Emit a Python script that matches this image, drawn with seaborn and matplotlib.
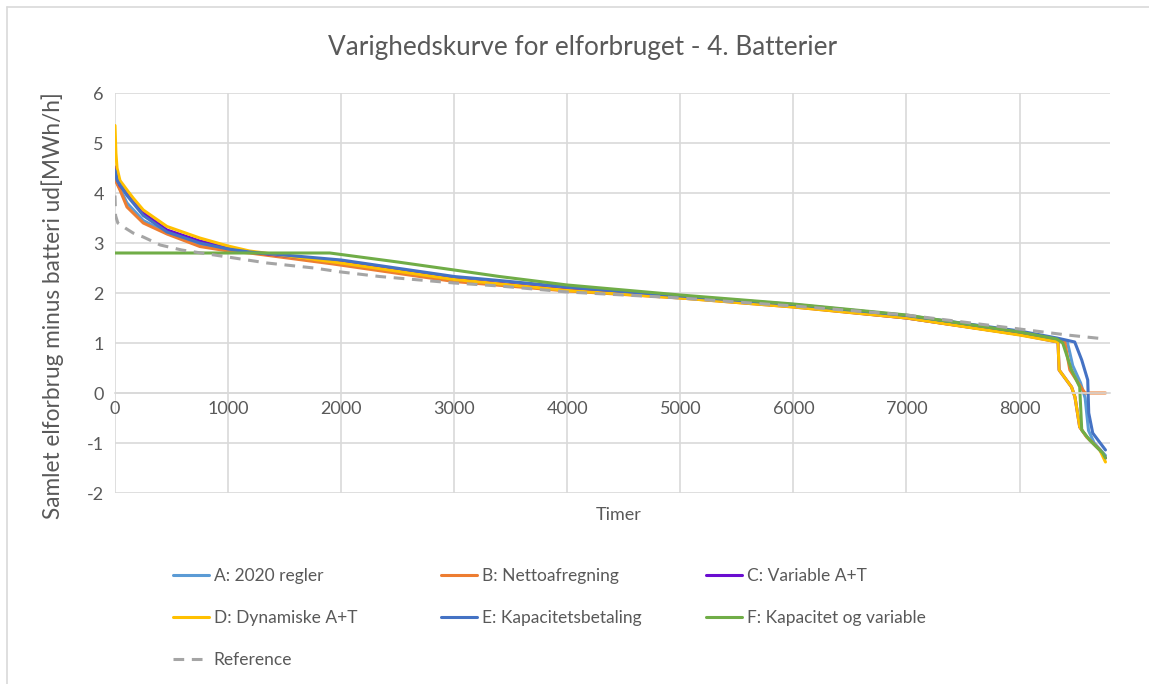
import numpy as np
import pandas as pd
import matplotlib
matplotlib.use('Agg')
import matplotlib.pyplot as plt
import seaborn as sns

# series (hours, MWh/h)
hours_A = [0, 18, 106, 250, 460, 750, 1000, 1190, 2000, 3000, 4000, 5000, 6000, 7000, 8000, 8300, 8420, 8440, 8470, 8540, 8580, 8610, 8660, 8760]
vals_A = [4.4, 4.2, 3.8, 3.45, 3.2, 2.95, 2.86, 2.82, 2.6, 2.27, 2.07, 1.93, 1.76, 1.52, 1.2, 1.09, 1.04, 0.85, 0.55, 0.2, -0.1, -0.75, -1.0, -1.25]

hours_B = [0, 15, 44, 106, 160, 250, 460, 750, 1000, 1190, 1930, 3000, 4000, 5000, 6000, 7000, 8000, 8300, 8400, 8445, 8560, 8580, 8760]
vals_B = [4.32, 4.2, 4.06, 3.72, 3.6, 3.4, 3.18, 2.93, 2.84, 2.8, 2.58, 2.23, 2.04, 1.9, 1.72, 1.5, 1.17, 1.07, 1.02, 0.46, 0.06, 0.0, 0.0]

hours_C = [0, 18, 44, 106, 160, 250, 460, 750, 1000, 1190, 2000, 3000, 4000, 5000, 6000, 7000, 8000, 8340, 8350, 8460, 8490, 8532, 8594, 8710, 8760]
vals_C = [4.52, 4.3, 4.15, 4.0, 3.85, 3.6, 3.26, 3.04, 2.9, 2.82, 2.62, 2.28, 2.06, 1.91, 1.73, 1.5, 1.17, 1.02, 0.46, 0.12, -0.08, -0.68, -0.88, -1.14, -1.3]

hours_D = [0, 8, 18, 44, 106, 160, 250, 460, 750, 1000, 1190, 2000, 3000, 4000, 5000, 6000, 7000, 8000, 8340, 8350, 8460, 8490, 8532, 8594, 8710, 8760]
vals_D = [5.35, 4.8, 4.5, 4.25, 4.06, 3.9, 3.66, 3.33, 3.1, 2.94, 2.84, 2.6, 2.27, 2.05, 1.9, 1.72, 1.5, 1.16, 1.02, 0.46, 0.12, -0.08, -0.68, -0.88, -1.14, -1.38]

hours_E = [0, 18, 106, 250, 460, 750, 1000, 1190, 2000, 3000, 3400, 4000, 5000, 6000, 7000, 8000, 8330, 8488, 8550, 8603, 8612, 8647, 8760]
vals_E = [4.45, 4.25, 3.95, 3.55, 3.22, 3.0, 2.88, 2.82, 2.66, 2.33, 2.25, 2.12, 1.94, 1.77, 1.55, 1.24, 1.1, 1.02, 0.66, 0.26, -0.4, -0.8, -1.14]

hours_F = [0, 1900, 2500, 3000, 3400, 4000, 5000, 6000, 7000, 8000, 8330, 8382, 8460, 8532, 8550, 8620, 8735, 8760]
vals_F = [2.8, 2.8, 2.62, 2.46, 2.33, 2.16, 1.96, 1.78, 1.56, 1.22, 1.08, 1.0, 0.46, 0.12, -0.74, -0.94, -1.2, -1.3]

hours_ref = [0, 5, 25, 90, 160, 250, 400, 590, 850, 1345, 1760, 2000, 2340, 3000, 3400, 4000, 5000, 6000, 7000, 8000, 8420, 8760]
vals_ref = [3.95, 3.55, 3.4, 3.3, 3.2, 3.12, 2.96, 2.86, 2.77, 2.6, 2.5, 2.42, 2.33, 2.2, 2.14, 2.02, 1.9, 1.74, 1.56, 1.28, 1.16, 1.08]

labels = ['A: 2020 regler', 'B: Nettoafregning', 'C: Variable A+T',
          'D: Dynamiske A+T', 'E: Kapacitetsbetaling', 'F: Kapacitet og variable']
colors = ['#5B9BD5', '#ED7D31', '#6A0DD0', '#FFC000', '#4472C4', '#70AD47']
series = [(hours_A, vals_A), (hours_B, vals_B), (hours_C, vals_C),
          (hours_D, vals_D), (hours_E, vals_E), (hours_F, vals_F)]

sns.set_style('white')
plt.rcParams['font.family'] = ['Lato', 'DejaVu Sans']
plt.rcParams['axes.unicode_minus'] = False
txt = '#595959'
grid = '#D9D9D9'

fig = plt.figure(figsize=(11.49, 6.84), dpi=100)
ax = fig.add_axes([115/1149, 1-493/684, 995/1149, 400/684])

for (h, v), lab, col in zip(series, labels, colors):
    sns.lineplot(x=h, y=v, ax=ax, color=col, lw=2.2, label=lab, estimator=None, sort=False)
sns.lineplot(x=hours_ref, y=vals_ref, ax=ax, color='#A5A5A5', lw=2.2, label='Reference',
             estimator=None, sort=False)
ax.lines[-1].set_dashes((3.5, 2.5))

ax.set_xlim(0, 8800)
ax.set_ylim(-2, 6)
ax.set_xticks(np.arange(0, 9000, 1000))
ax.set_yticks(np.arange(-2, 7, 1))
ax.grid(True, color=grid, lw=1.2)
ax.set_axisbelow(True)
for s in ['top', 'right', 'left']:
    ax.spines[s].set_visible(False)
ax.spines['bottom'].set_position(('data', 0))
ax.spines['bottom'].set_color(grid)
ax.spines['bottom'].set_linewidth(1.2)
ax.tick_params(axis='both', length=0, labelsize=13, colors=txt, pad=6)
ax.tick_params(axis='y', pad=8)

fig.text(619/1149, 1-515/684, 'Timer', ha='center', va='center', fontsize=13, color=txt)
fig.text(53/1149, 1-306/684, 'Samlet elforbrug minus batteri ud[MWh/h]', rotation=90,
         ha='center', va='center', fontsize=16.3, color=txt)
fig.text(583/1149, 1-47/684, 'Varighedskurve for elforbruget - 4. Batterier',
         ha='center', va='center', fontsize=18.8, color=txt)

# Excel-style legend: three fixed columns, filled row by row
ax.get_legend().remove()
handles, labs = ax.get_legend_handles_labels()
cols = [[0, 3, 6], [1, 4], [2, 5]]
col_x = [173, 441, 706]
for idx, x0 in zip(cols, col_x):
    leg = fig.legend([handles[i] for i in idx], [labs[i] for i in idx], loc='upper left',
                     bbox_to_anchor=(x0/1149, 1-568/684), frameon=False, fontsize=12.5,
                     handlelength=2.1, handletextpad=0.25, labelspacing=1.5, borderpad=0,
                     borderaxespad=0)
    for t in leg.get_texts():
        t.set_color(txt)

# chart area border
fig.add_artist(plt.Line2D([7/1149, 7/1149], [0, 1-7/684], color=grid, lw=1.2))
fig.add_artist(plt.Line2D([7/1149, 1], [1-7/684, 1-7/684], color=grid, lw=1.2))

fig.savefig('out.png', dpi=100)
